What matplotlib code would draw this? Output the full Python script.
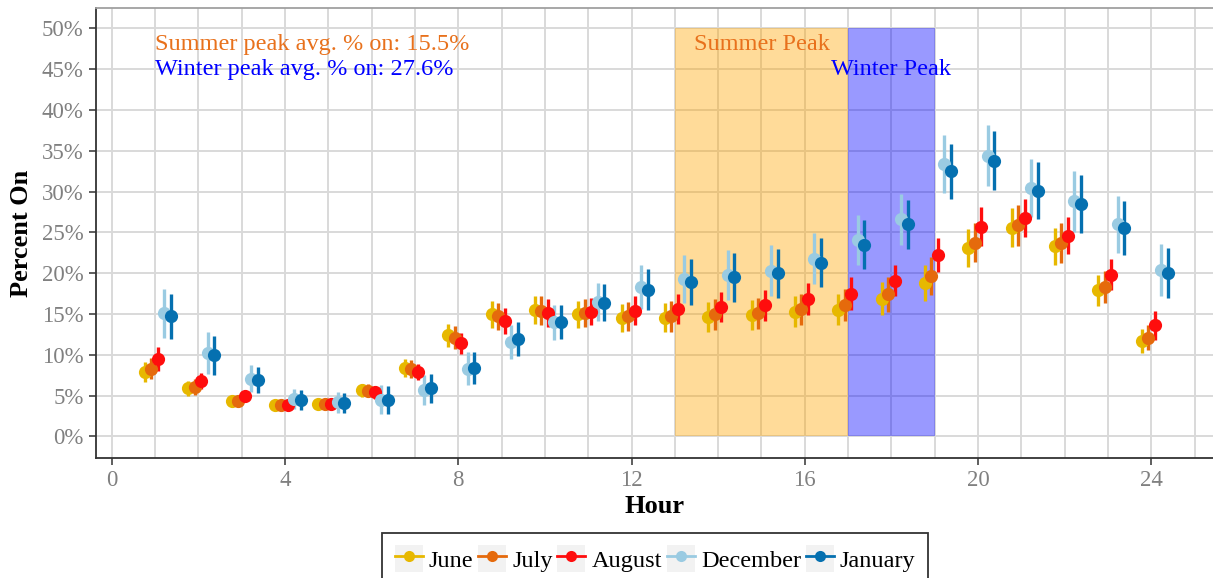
import numpy as np
import matplotlib
matplotlib.use("Agg")
import matplotlib.pyplot as plt
from matplotlib.patches import Rectangle
from matplotlib.lines import Line2D
from matplotlib.legend_handler import HandlerLine2D

### Start : Data --------------------------------------------------------------
hours = np.arange(1, 25)
months = ["June", "July", "August", "December", "January"]

june = [7.9, 5.9, 4.3, 3.8, 4.0, 5.65, 8.4, 12.4, 14.95, 15.5, 14.95, 14.5,
        14.55, 14.65, 14.9, 15.3, 15.55, 16.9, 18.85, 23.1, 25.6, 23.3, 17.9, 11.7]
july = [8.3, 6.1, 4.4, 3.8, 4.0, 5.6, 8.3, 12.1, 14.7, 15.4, 15.1, 14.7,
        14.7, 14.95, 15.1, 15.6, 16.1, 17.4, 19.65, 23.75, 25.85, 23.7, 18.3, 12.1]
august = [9.5, 6.8, 4.9, 3.9, 4.0, 5.4, 7.9, 11.4, 14.2, 15.15, 15.3, 15.4,
          15.6, 15.9, 16.1, 16.8, 17.5, 19.1, 22.2, 25.7, 26.8, 24.6, 19.8, 13.6]
december = [15.1, 10.2, 7.1, 4.6, 4.2, 4.5, 5.7, 8.3, 11.6, 14.0, 16.5, 18.3,
            19.3, 19.8, 20.3, 21.8, 24.1, 26.6, 33.4, 34.4, 30.4, 28.8, 26.0, 20.4]
january = [14.7, 9.95, 6.9, 4.5, 4.1, 4.5, 5.9, 8.4, 11.9, 14.0, 16.4, 18.0,
           18.95, 19.5, 20.0, 21.3, 23.5, 26.0, 32.5, 33.8, 30.1, 28.5, 25.5, 20.0]

# half width of the error bars (percentage points)
june_err = [1.2, 0.9, 0.6, 0.5, 0.55, 0.8, 1.1, 1.4, 1.6, 1.7, 1.65, 1.7,
            1.8, 1.85, 1.85, 1.85, 1.9, 2.0, 2.2, 2.3, 2.4, 2.3, 1.9, 1.5]
july_err = [1.3, 1.0, 0.6, 0.5, 0.55, 0.8, 1.1, 1.4, 1.65, 1.75, 1.7, 1.75,
            1.85, 1.9, 1.9, 1.9, 2.0, 2.1, 2.3, 2.4, 2.5, 2.4, 2.0, 1.5]
august_err = [1.45, 1.0, 0.65, 0.5, 0.55, 0.8, 1.0, 1.3, 1.6, 1.7, 1.7, 1.75,
              1.8, 1.85, 1.9, 1.95, 2.0, 1.95, 2.1, 2.4, 2.35, 2.3, 1.9, 1.75]
december_err = [3.0, 2.55, 1.7, 1.25, 1.3, 1.75, 1.8, 2.0, 2.1, 2.15, 2.35, 2.65,
                2.9, 3.1, 3.1, 3.1, 3.05, 3.1, 3.55, 3.75, 3.55, 3.7, 3.5, 3.2]
january_err = [2.8, 2.4, 1.6, 1.2, 1.25, 1.7, 1.75, 2.0, 2.1, 2.1, 2.3, 2.5,
               2.8, 3.0, 3.0, 3.0, 3.0, 3.0, 3.35, 3.65, 3.5, 3.55, 3.3, 3.05]

summer_peak = (13, 17)
winter_peak = (17, 19)
summer_avg = 15.5
winter_avg = 27.6
### End : Data ----------------------------------------------------------------

colors = ["#E7B800", "#E56A0C", "#FF0D0D", "#9ACBE2", "#0570B0"]
dodge = [-0.23, -0.08, 0.07, 0.22, 0.37]
values = [june, july, august, december, january]
errors = [june_err, july_err, august_err, december_err, january_err]

serif = ["Liberation Serif", "DejaVu Serif"]
plt.rcParams["font.family"] = serif

fig = plt.figure(figsize=(12.13, 5.78), dpi=100)
ax = fig.add_axes([95.5 / 1213, 120 / 578, (1213 - 95.5) / 1213, 450 / 578])

### Start : Peak shading ------------------------------------------------------
ax.add_patch(Rectangle((summer_peak[0], 0), summer_peak[1] - summer_peak[0], 50,
                       facecolor="orange", alpha=0.4, edgecolor="none", zorder=1))
ax.add_patch(Rectangle((winter_peak[0], 0), winter_peak[1] - winter_peak[0], 50,
                       facecolor="blue", alpha=0.4, edgecolor="none", zorder=1))
### End : Peak shading --------------------------------------------------------

### Start : Points with error bars --------------------------------------------
for name, vals, err, c, d in zip(months, values, errors, colors, dodge):
    ax.errorbar(hours + d, vals, yerr=err, fmt="o", color=c, ms=9.5,
                mew=0, elinewidth=2.4, capsize=0, zorder=3, label=name)
### End : Points with error bars ----------------------------------------------

# annotations
orange_txt = "#E8711C"
ax.text(1, 48, f"Summer peak avg. % on: {summer_avg}%", color=orange_txt,
        fontsize=17.5, ha="left", va="center")
ax.text(1, 45, f"Winter peak avg. % on: {winter_avg}%", color="#0000FF",
        fontsize=17.5, ha="left", va="center")
ax.text(15, 48, "Summer Peak", color=orange_txt, fontsize=17.5, ha="center", va="center")
ax.text(18, 45, "Winter Peak", color="#0000FF", fontsize=17.5, ha="center", va="center")

### Start : Axes styling ------------------------------------------------------
ax.set_xlim(-0.37, 25.42)
ax.set_ylim(-2.64, 52.5)
ax.set_xticks(np.arange(0, 25, 4))
ax.set_xticks(np.arange(0, 26, 1), minor=True)
ax.set_yticks(np.arange(0, 51, 5))
ax.set_yticklabels([f"{v}%" for v in range(0, 51, 5)])
ax.set_axisbelow(True)
ax.grid(True, which="major", color="#D9D9D9", linewidth=1.4)
ax.grid(True, which="minor", axis="x", color="#D9D9D9", linewidth=1.4)
ax.tick_params(axis="both", which="major", labelsize=16.5, colors="#333333",
               labelcolor="#808080", length=5, width=1.1)
ax.tick_params(axis="x", which="minor", length=0)
for s in ["left", "bottom"]:
    ax.spines[s].set_color("#333333")
    ax.spines[s].set_linewidth(1.3)
ax.spines["top"].set_color("#A0A0A0")
ax.spines["top"].set_linewidth(1.3)
ax.spines["right"].set_visible(False)
ax.set_xlabel("Hour", fontsize=19, fontweight="bold", labelpad=3)
ax.set_ylabel("Percent On", fontsize=19, fontweight="bold", labelpad=6)
### End : Axes styling --------------------------------------------------------


class KeyBg(HandlerLine2D):
    # gray square behind each legend key
    def create_artists(self, legend, orig_handle, xdescent, ydescent, width,
                       height, fontsize, trans):
        bg = Rectangle((-xdescent, -ydescent), width, height, facecolor="#F2F2F2",
                       edgecolor="none", transform=trans)
        arts = super().create_artists(legend, orig_handle, xdescent, ydescent,
                                      width, height, fontsize, trans)
        return [bg] + list(arts)


handles = [Line2D([], [], color=c, marker="o", ms=8, lw=2, mew=0) for c in colors]
leg = fig.legend(handles, months, loc="upper center", ncol=5,
                 bbox_to_anchor=(655 / 1213, 1 - 533 / 578), fontsize=17.5,
                 frameon=True, fancybox=False, edgecolor="black",
                 handlelength=1.15, handleheight=1.3, handletextpad=0.25,
                 columnspacing=0.2, borderpad=0.5, borderaxespad=0,
                 handler_map={Line2D: KeyBg()})
leg.get_frame().set_linewidth(1.3)

fig.savefig("out.png", dpi=100)
